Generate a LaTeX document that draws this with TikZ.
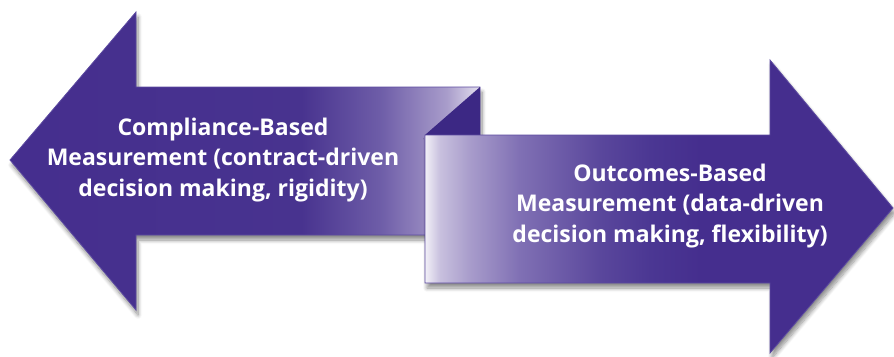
\documentclass[tikz,border=0pt]{standalone}
\usepackage{fontspec}
\setmainfont{Open Sans}
\usetikzlibrary{shadows.blur}
\definecolor{dk}{HTML}{452E8E}
\definecolor{dkb}{HTML}{48338F}
\definecolor{ma}{HTML}{6E5DA8}
\definecolor{mb}{HTML}{A99DCB}
\definecolor{lt}{HTML}{E4E0EE}
\definecolor{ra}{HTML}{F2F0F7}
\definecolor{rb}{HTML}{C8C0DE}
\definecolor{rc}{HTML}{A89CCB}
\definecolor{rd}{HTML}{8070B4}
\definecolor{re}{HTML}{5A479C}
\definecolor{rf}{HTML}{4B3793}
\definecolor{edgec}{HTML}{5C4AA0}
\definecolor{folddk}{HTML}{3C2884}
\pgfdeclarehorizontalshading{leftgrad}{100bp}{color(0bp)=(dk); color(25bp)=(dk); color(56bp)=(dkb); color(64.4bp)=(ma); color(71.5bp)=(mb); color(75bp)=(lt); color(100bp)=(lt)}
\pgfdeclarehorizontalshading{rightgrad}{100bp}{color(0bp)=(ra); color(25bp)=(ra); color(26.6bp)=(rb); color(29.8bp)=(rc); color(35.1bp)=(rd); color(43.7bp)=(re); color(49bp)=(rf); color(54.4bp)=(dk); color(100bp)=(dk)}
\tikzset{
  arrowshape/.style={draw=edgec, line width=0.8pt, line join=miter,
    blur shadow={shadow xshift=2pt, shadow yshift=-5pt, shadow blur radius=4pt, shadow blur steps=8, shadow opacity=45}},
  label/.style={text=white, font=\fontsize{23}{30.5}\selectfont\bfseries, align=center, inner sep=0pt}
}
\begin{document}
\begin{tikzpicture}[x=1pt,y=-1pt]
\useasboundingbox (0,0) rectangle (894,356);
% left arrow
\path[arrowshape, shading=leftgrad]
  (10,160) -- (136,12) -- (136,87) -- (480,87) -- (480,235) -- (136,235) -- (136,310) -- cycle;
% fold (back side)
\fill[folddk] (480,87) -- (480,135) -- (425,135) -- cycle;
% right arrow
\path[arrowshape, shading=rightgrad]
  (425,135) -- (770,135) -- (770,60) -- (893,208) -- (770,353) -- (770,283) -- (425,283) -- cycle;
\node[label] (lefttext) at (223,160) {Compliance-Based\\Measurement (contract-driven\\decision making, rigidity)};
\node[label] (righttext) at (670,206) {Outcomes-Based\\Measurement (data-driven\\decision making, flexibility)};
\end{tikzpicture}
\end{document}
